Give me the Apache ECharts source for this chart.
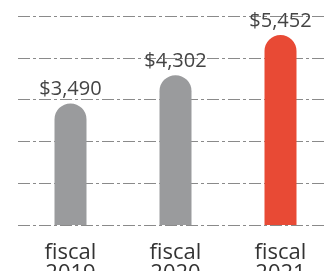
<!DOCTYPE html>
<html>
<head>
<meta charset="utf-8">
<script src="https://cdn.jsdelivr.net/npm/echarts@6/dist/echarts.min.js"></script>
<style>html,body{margin:0;padding:0;background:#fff}#c{width:327px;height:271px}</style>
</head>
<body>
<div id="c"></div>
<script>
const categories = ['fiscal\n2019', 'fiscal\n2020', 'fiscal\n2021'];
const revenue = [3490, 4302, 5452];
const barColors = ['#9a9b9d', '#9a9b9d', '#e84a35'];
const unitNote = '(in millions)';

const chart = echarts.init(document.getElementById('c'), null, {renderer: 'canvas'});
chart.setOption({
  animation: false,
  graphic: [{
    type: 'text', left: 18, top: -20,
    style: {text: unitNote, font: '20px "Open Sans"', fill: '#333'}
  }],
  grid: {left: 18, right: -6, top: 16, bottom: 46, containLabel: false, outerBoundsMode: 'none'},
  xAxis: {
    type: 'category', data: categories,
    axisLine: {show: false}, axisTick: {show: false},
    axisLabel: {color: '#333', fontFamily: 'Open Sans', fontSize: 22, lineHeight: 21, margin: 17}
  },
  yAxis: {
    type: 'value', min: 0, max: 6000, interval: 1200,
    axisLabel: {show: false}, axisLine: {show: false}, axisTick: {show: false},
    splitLine: {lineStyle: {color: '#8a8a8a', width: 1, type: [12, 3, 3, 3]}}
  },
  series: [{
    type: 'bar', barWidth: 32,
    data: revenue.map((v, i) => ({value: v, itemStyle: {color: barColors[i]}})),
    itemStyle: {borderRadius: [16, 16, 0, 0]},
    label: {
      show: true, position: 'top', distance: 4,
      formatter: p => '$' + p.value.toLocaleString('en-US'),
      color: '#444', fontFamily: 'Open Sans', fontSize: 20
    }
  }]
});
</script>
</body>
</html>
